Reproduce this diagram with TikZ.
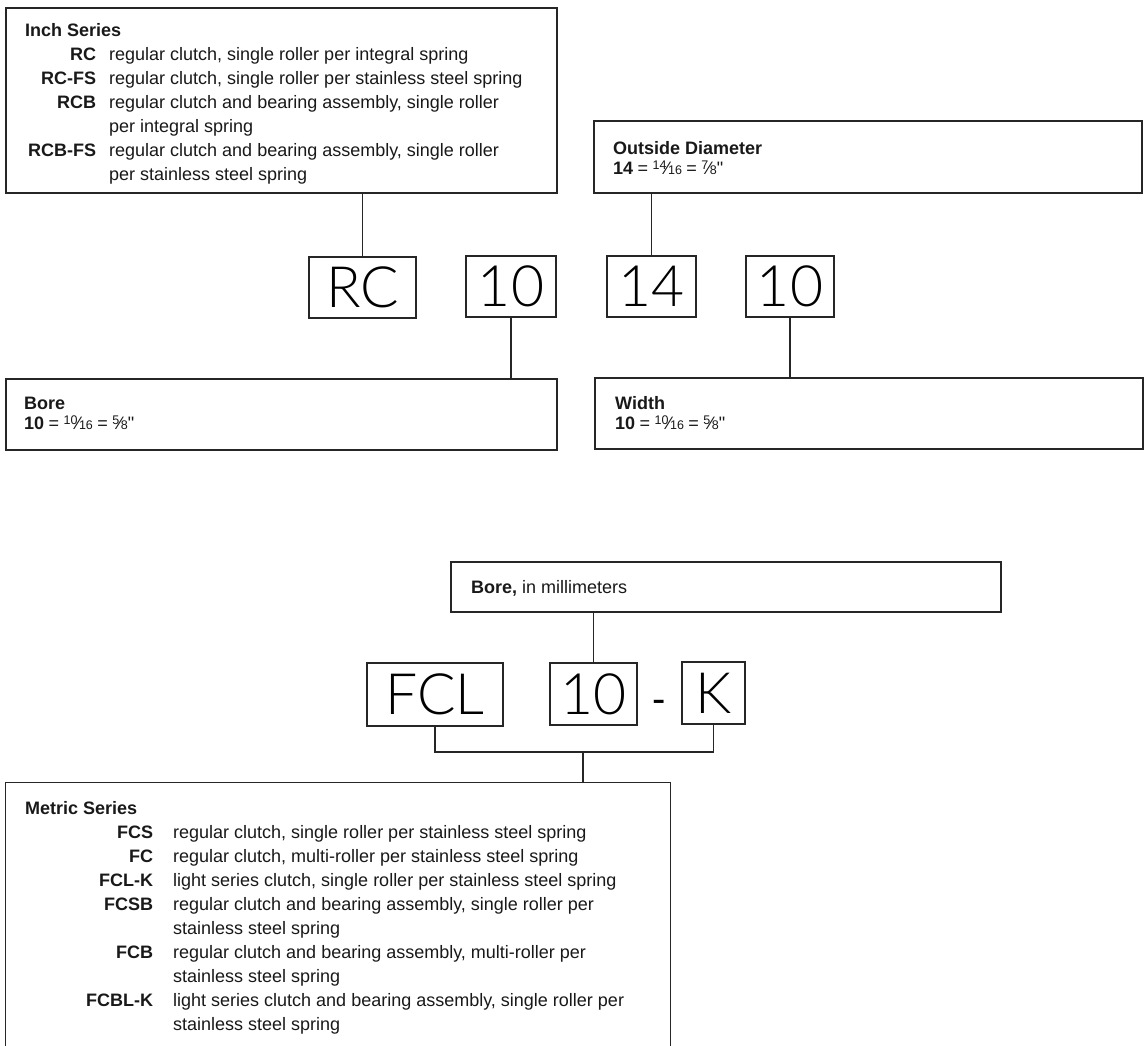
\documentclass[tikz,border=0pt]{standalone}
\usepackage{fontspec}
\setmainfont{Liberation Sans}[Ligatures=TeXOff]
\newfontfamily\bigfont{Lato Light}
\newcommand\frc[2]{\raisebox{5pt}{\fontsize{12.5}{12.5}\selectfont#1}\kern-0.8pt{⁄}\kern-0.8pt{\fontsize{12.5}{12.5}\selectfont#2}}
\newcommand\lab[2]{\makebox[#1][r]{\textbf{#2}}}
\newcommand\eqs{\hspace{4.5pt}=\hspace{4.5pt}}
\begin{document}
\begin{tikzpicture}[x=1pt,y=-1pt,
  box/.style={draw=black!85, line width=1.1pt, rectangle, inner sep=0pt},
  big/.style={font=\bigfont\fontsize{57}{57}\selectfont, text=black},
  conn/.style={draw=black!85, line width=1.1pt},
  txt/.style={font=\fontsize{18}{24}\selectfont, text=black!90, inner sep=0pt}]
\clip (0,0) rectangle (1147,1045);
\fill[white] (0,0) rectangle (1147,1045);

% ---------- inch series ----------
\node[box, minimum width=551pt, minimum height=185pt] (inch) at (281.5,100.5) {};
\node[txt, anchor=north west] (inchtxt) at (25,19) {%
\begin{tabular}{@{}l@{\hspace{13pt}}l@{}}
\multicolumn{2}{@{}l@{}}{\textbf{Inch Series}}\\
\lab{71pt}{RC} & regular clutch, single roller per integral spring\\
\lab{71pt}{RC-FS} & regular clutch, single roller per stainless steel spring\\
\lab{71pt}{RCB} & regular clutch and bearing assembly, single roller\\
 & per integral spring\\
\lab{71pt}{RCB-FS} & regular clutch and bearing assembly, single roller\\
 & per stainless steel spring
\end{tabular}};

\node[box, minimum width=548pt, minimum height=72pt] (od) at (868,157) {};
\node[txt, anchor=base west] (odh) at (613,154.5) {\textbf{Outside Diameter}};
\node[txt, anchor=base west] (odv) at (613,174.5) {\textbf{14}\eqs\frc{14}{16}\eqs\frc{7}{8}"};

\node[box, big, minimum width=107pt, minimum height=61pt] (rc) at (362.5,287.5) {RC};
\node[box, big, minimum width=90pt, minimum height=61pt] (ten1) at (511,286.5) {10};
\node[box, big, minimum width=89pt, minimum height=61pt] (fourteen) at (651.5,286.5) {14};
\node[box, big, minimum width=88pt, minimum height=61pt] (ten2) at (790,286.5) {10};

\node[box, minimum width=551pt, minimum height=71pt] (bore) at (281.5,414.5) {};
\node[txt, anchor=base west] (boreh) at (24,409.5) {\textbf{Bore}};
\node[txt, anchor=base west] (borev) at (24,429.5) {\textbf{10}\eqs\frc{10}{16}\eqs\frc{5}{8}"};

\node[box, minimum width=548pt, minimum height=71pt] (width) at (869,413.5) {};
\node[txt, anchor=base west] (widthh) at (615,409.5) {\textbf{Width}};
\node[txt, anchor=base west] (widthv) at (615,429.5) {\textbf{10}\eqs\frc{10}{16}\eqs\frc{5}{8}"};

\draw[conn] (rc.north) -- (rc.north |- inch.south);
\draw[conn] (fourteen.north) -- (fourteen.north |- od.south);
\draw[conn] (ten1.south) -- (ten1.south |- bore.north);
\draw[conn] (ten2.south) -- (ten2.south |- width.north);

% ---------- metric series ----------
\node[box, minimum width=550pt, minimum height=50pt] (bmm) at (726,587) {};
\node[txt, anchor=base west] (bmmt) at (471,593.5) {\textbf{Bore,} in millimeters};

\node[box, big, minimum width=136pt, minimum height=63pt] (fcl) at (435,694.5) {FCL};
\node[box, big, minimum width=87pt, minimum height=62pt] (ten3) at (593.5,694) {10};
\node[anchor=base, font=\fontsize{40}{40}\selectfont, text=black, inner sep=0pt] (dash) at (659,712) {-};
\node[box, big, minimum width=63pt, minimum height=62pt] (k) at (713.5,693) {K};

\node[box, minimum width=665pt, minimum height=290pt, anchor=north west] (metric) at (5,782) {};
\node[txt, anchor=north west] (mettxt) at (25,797.7) {%
\begin{tabular}{@{}l@{\hspace{20pt}}l@{}}
\multicolumn{2}{@{}l@{}}{\textbf{Metric Series}}\\
\lab{128pt}{FCS} & regular clutch, single roller per stainless steel spring\\
\lab{128pt}{FC} & regular clutch, multi-roller per stainless steel spring\\
\lab{128pt}{FCL-K} & light series clutch, single roller per stainless steel spring\\
\lab{128pt}{FCSB} & regular clutch and bearing assembly, single roller per\\
 & stainless steel spring\\
\lab{128pt}{FCB} & regular clutch and bearing assembly, multi-roller per\\
 & stainless steel spring\\
\lab{128pt}{FCBL-K} & light series clutch and bearing assembly, single roller per\\
 & stainless steel spring
\end{tabular}};

\coordinate (brk) at (583,752);
\draw[conn] (ten3.north) -- (ten3.north |- bmm.south);
\draw[conn] (fcl.south) -- (fcl.south |- brk) -- (k.south |- brk) -- (k.south);
\draw[conn] (brk) -- (brk |- metric.north);
\end{tikzpicture}
\end{document}
